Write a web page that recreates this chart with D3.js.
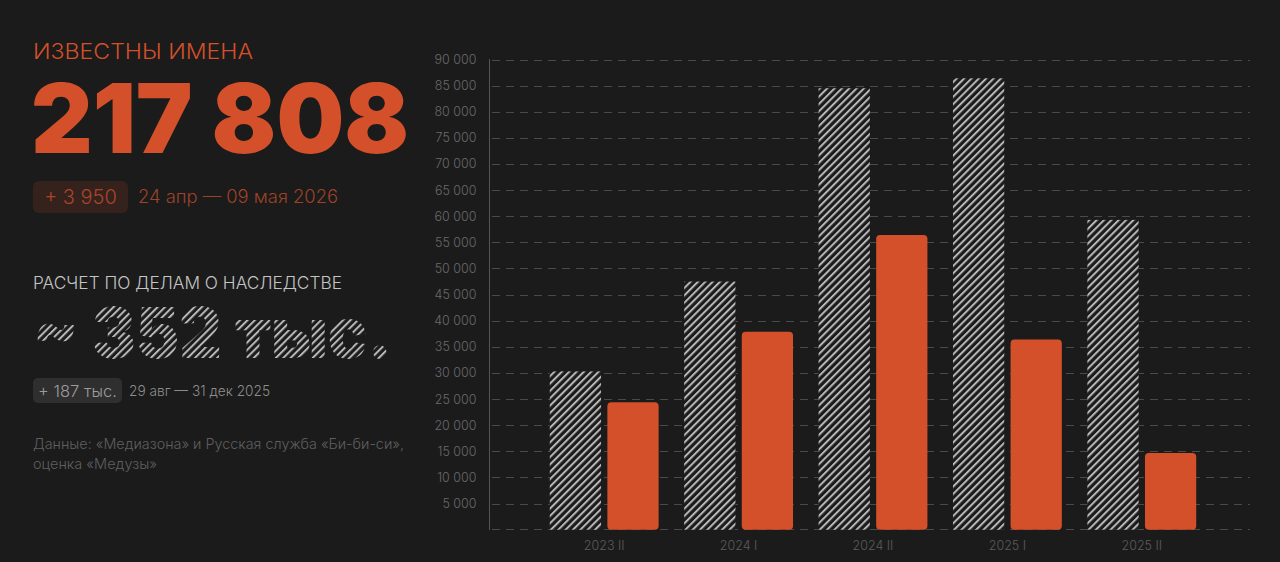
<!DOCTYPE html>
<html><head><meta charset="utf-8">
<script src="https://cdn.jsdelivr.net/npm/d3@7"></script>
<style>
html,body{margin:0;padding:0;background:#1b1b1b;}
svg{display:block;}
text{font-family:Inter,"Noto Sans",sans-serif;}
</style></head>
<body>
<svg id="c" width="1280" height="562"></svg>
<script>
const categories = ["2023 II","2024 I","2024 II","2025 I","2025 II"];
const estimateValues = [30300, 47500, 84500, 86400, 59300];   // hatched: inheritance-case estimate
const knownValues    = [24400, 37900, 56400, 36400, 14700];   // orange: known names
const yTicks = [5000,10000,15000,20000,25000,30000,35000,40000,45000,50000,55000,60000,65000,70000,75000,80000,85000,90000];

const BG = "#1b1b1b", ORANGE = "#d4502a";
const svg = d3.select("#c");
svg.append("rect").attr("width",1280).attr("height",562).attr("fill",BG);

const defs = svg.append("defs");
const pat = defs.append("pattern").attr("id","hatch").attr("patternUnits","userSpaceOnUse")
  .attr("width",5.2).attr("height",5.2).attr("patternTransform","rotate(45)");
pat.append("rect").attr("width",5.2).attr("height",5.2).attr("fill",BG);
pat.append("rect").attr("x",0).attr("width",2).attr("height",5.2).attr("fill","#b8b8b8");

const fmt = v => d3.format(",")(v).replace(/,/g," ");

// ---- left panel ----
const L = svg.append("g");
L.append("text").attr("x",33).attr("y",59).attr("font-size",21).attr("font-weight",300).attr("fill",ORANGE)
  .attr("textLength",220).attr("lengthAdjust","spacingAndGlyphs").text("ИЗВЕСТНЫ ИМЕНА");
L.append("text").attr("x",31).attr("y",153).attr("font-size",96).attr("font-weight",900).attr("fill",ORANGE)
  .attr("textLength",378).attr("lengthAdjust","spacingAndGlyphs").text("217 808");
L.append("rect").attr("x",33).attr("y",181).attr("width",95).attr("height",32).attr("rx",6).attr("fill","#35221d");
L.append("text").attr("x",80.5).attr("y",204).attr("text-anchor","middle").attr("font-size",20).attr("font-weight",300).attr("fill","#a8452a").text("+ 3 950");
L.append("text").attr("x",138).attr("y",203).attr("font-size",18).attr("font-weight",300).attr("fill","#9c4328")
  .attr("textLength",200).attr("lengthAdjust","spacingAndGlyphs").text("24 апр — 09 мая 2026");

L.append("text").attr("x",33).attr("y",289).attr("font-size",17.5).attr("font-weight",300).attr("fill","#c4c4c4")
  .attr("textLength",309).attr("lengthAdjust","spacingAndGlyphs").text("РАСЧЕТ ПО ДЕЛАМ О НАСЛЕДСТВЕ");
L.append("text").attr("x",33).attr("y",358).attr("font-size",70).attr("font-weight",900).attr("fill","url(#hatch)")
  .attr("textLength",359).attr("lengthAdjust","spacingAndGlyphs").text("~ 352 тыс.");
L.append("rect").attr("x",33).attr("y",378).attr("width",89).attr("height",25).attr("rx",5).attr("fill","#2f2f2f");
L.append("text").attr("x",77.5).attr("y",397).attr("text-anchor","middle").attr("font-size",16.5).attr("font-weight",300).attr("fill","#9c9c9c").text("+ 187 тыс.");
L.append("text").attr("x",129).attr("y",396).attr("font-size",14.5).attr("font-weight",300).attr("fill","#8c8c8c")
  .attr("textLength",141).attr("lengthAdjust","spacingAndGlyphs").text("29 авг — 31 дек 2025");
L.append("text").attr("x",33).attr("y",449).attr("font-size",14).attr("font-weight",300).attr("fill","#5f5f5f")
  .attr("textLength",371).attr("lengthAdjust","spacingAndGlyphs").text("Данные: «Медиазона» и Русская служба «Би-би-си»,");
L.append("text").attr("x",33).attr("y",469).attr("font-size",14).attr("font-weight",300).attr("fill","#5f5f5f")
  .attr("textLength",124).attr("lengthAdjust","spacingAndGlyphs").text("оценка «Медузы»");

// ---- chart ----
const y = d3.scaleLinear().domain([0,90000]).range([529.7,59.5]);
const x = d3.scaleBand().domain(categories).range([537,1209]).paddingInner(0.19).paddingOuter(0.095);
const xs = d3.scaleBand().domain(["est","known"]).range([0,x.bandwidth()]).paddingInner(0.11);

const grid = svg.append("g");
grid.selectAll("line").data(yTicks).join("line")
  .attr("x1",492).attr("x2",1250).attr("y1",d=>Math.round(y(d))+0.5).attr("y2",d=>Math.round(y(d))+0.5)
  .attr("stroke","#4a4a4a").attr("stroke-width",1).attr("stroke-dasharray","8,6");
grid.append("line").attr("x1",492).attr("x2",1250).attr("y1",529.5).attr("y2",529.5)
  .attr("stroke","#4a4a4a").attr("stroke-dasharray","8,6");

const yAxis = d3.axisLeft(y).tickValues(yTicks).tickSize(0).tickPadding(13).tickFormat(fmt);
const ya = svg.append("g").attr("transform","translate(489.5,0)").call(yAxis);
ya.select(".domain").attr("stroke","#555").attr("d","M0,59V530");
ya.selectAll("text").attr("fill","#6a6a6a").attr("font-size",12.5).attr("font-weight",300).attr("font-family","Inter, sans-serif");

const groups = svg.append("g").selectAll("g").data(categories).join("g")
  .attr("transform",d=>`translate(${x(d)},0)`);
groups.append("rect").attr("x",xs("est")).attr("width",xs.bandwidth())
  .attr("y",(d,i)=>y(estimateValues[i])).attr("height",(d,i)=>y(0)-y(estimateValues[i]))
  .attr("fill","url(#hatch)");
groups.append("rect").attr("x",xs("known")).attr("width",xs.bandwidth())
  .attr("y",(d,i)=>y(knownValues[i])).attr("height",(d,i)=>y(0)-y(knownValues[i]))
  .attr("rx",4).attr("fill",ORANGE);

const xAxis = d3.axisBottom(x).tickSize(0).tickPadding(10);
const xa = svg.append("g").attr("transform","translate(0,531)").call(xAxis);
xa.select(".domain").remove();
xa.selectAll("text").attr("fill","#5c5c5c").attr("font-size",12.5).attr("font-weight",300).attr("font-family","Inter, sans-serif");
</script>
</body></html>
